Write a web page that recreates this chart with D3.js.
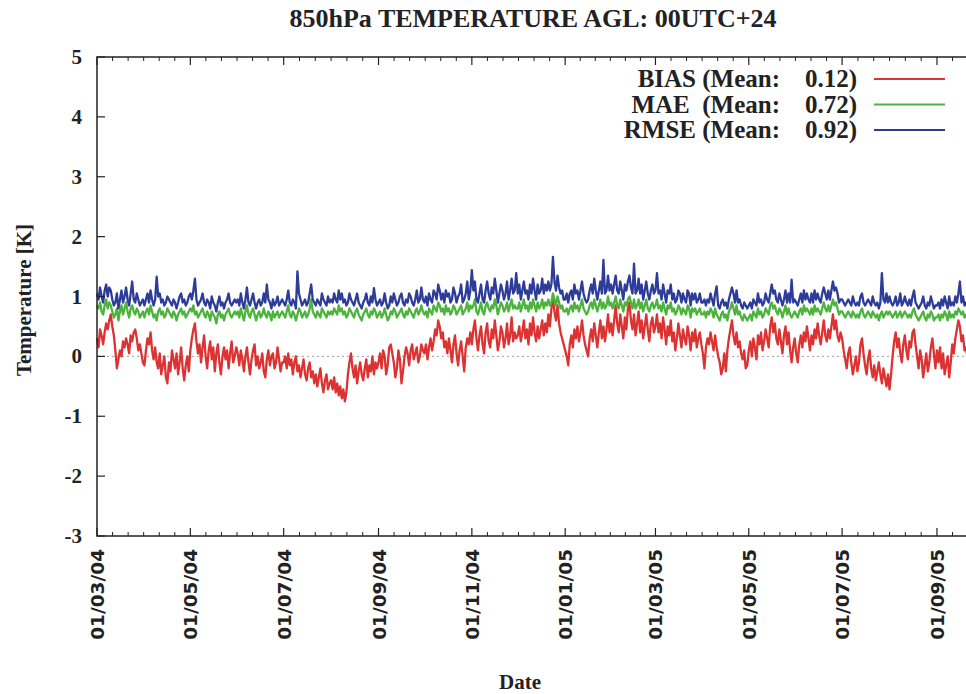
<!DOCTYPE html>
<html>
<head>
<meta charset="utf-8">
<script src="https://d3js.org/d3.v7.min.js"></script>
<style>
 body { margin: 0; background: #fff; }
 svg text { font-family: "Liberation Serif", "DejaVu Serif", serif; font-weight: bold; fill: #222; }
 .xlab { font-family: "DejaVu Sans", sans-serif; }
</style>
</head>
<body>
<svg id="chart" width="966" height="694"></svg>
<script>
// values, one per day from 01/03/04
var startDate = "2004-03-01";
var endDate = "2005-10-01";
var bias = [
 0.30,0.15,0.45,0.35,0.20,0.40,0.55,0.45,0.60,0.70,0.50,0.35,0.10,-0.20,-0.05,0.10,0.00,0.25,0.15,0.30,0.20,0.05,0.35,0.25,0.40,0.45,0.30,0.10,0.20,0.05,-0.10,
 -0.15,0.10,0.30,0.20,0.40,0.10,-0.05,0.15,-0.10,-0.20,0.05,-0.30,-0.15,0.00,-0.35,-0.45,-0.10,-0.25,0.10,-0.05,-0.20,0.05,-0.30,-0.10,0.15,-0.20,-0.40,-0.15,0.00,-0.25,
 0.10,0.30,0.45,0.55,0.25,0.05,0.20,-0.10,0.15,0.35,0.00,-0.20,0.10,0.25,-0.05,0.15,-0.25,0.05,0.20,-0.10,-0.30,0.00,0.15,-0.05,0.10,-0.20,0.05,0.25,-0.10,0.00,0.15,
 0.05,-0.15,0.10,-0.05,-0.25,0.00,0.15,-0.10,-0.30,-0.05,0.10,0.20,-0.15,0.00,-0.20,-0.10,0.05,-0.25,-0.35,-0.05,0.10,-0.15,0.00,0.05,-0.20,-0.10,0.15,-0.05,-0.25,-0.10,
 -0.10,0.00,-0.20,0.05,-0.15,-0.05,-0.30,-0.10,0.00,-0.25,-0.15,-0.35,-0.20,-0.05,-0.30,-0.40,-0.20,-0.10,-0.35,-0.25,-0.45,-0.30,-0.50,-0.35,-0.20,-0.45,-0.60,-0.40,-0.30,-0.55,-0.45,
 -0.40,-0.55,-0.35,-0.60,-0.45,-0.65,-0.50,-0.70,-0.55,-0.75,-0.60,-0.30,-0.10,0.05,-0.20,-0.35,-0.15,-0.45,-0.25,-0.10,-0.30,-0.40,-0.20,-0.05,-0.35,-0.15,-0.25,0.00,-0.30,-0.10,-0.20,
 -0.10,0.05,-0.20,0.10,0.00,-0.30,-0.15,0.15,0.20,0.05,-0.10,-0.35,-0.20,0.10,-0.05,-0.45,-0.25,0.00,0.15,0.05,-0.15,0.10,0.20,-0.05,0.05,0.15,-0.10,0.00,0.20,0.10,
 0.05,0.20,-0.05,0.15,0.30,0.10,0.25,0.45,0.35,0.60,0.50,0.30,0.40,0.15,0.25,0.05,0.30,0.10,-0.10,0.20,0.35,0.05,-0.15,0.10,0.25,0.00,-0.25,0.15,0.30,0.20,0.40,
 0.20,0.45,0.60,0.30,0.10,0.35,0.50,0.20,0.05,0.40,0.55,0.25,0.15,0.45,0.30,0.60,0.35,0.10,0.25,0.50,0.40,0.15,0.30,0.55,0.20,0.35,0.65,0.25,0.40,0.30,
 0.35,0.50,0.25,0.40,0.60,0.30,0.45,0.20,0.55,0.35,0.65,0.40,0.25,0.50,0.30,0.45,0.60,0.35,0.55,0.40,0.70,0.50,0.80,0.95,0.75,0.60,0.85,0.55,0.40,0.30,0.20,
 0.10,0.00,-0.15,0.20,0.35,0.15,0.45,0.30,0.50,0.25,0.40,0.60,0.35,0.20,0.10,0.00,0.30,0.45,0.25,0.55,0.35,0.15,0.40,0.60,0.30,0.50,0.25,0.45,0.70,0.40,0.55,
 0.35,0.60,0.85,0.55,0.40,0.70,0.50,0.30,0.65,0.45,0.80,0.90,0.60,0.45,0.70,0.35,0.55,0.75,0.40,0.60,0.30,0.50,0.70,0.45,0.25,0.55,0.65,0.40,
 0.50,0.70,0.40,0.55,0.30,0.65,0.45,0.20,0.50,0.35,0.60,0.25,0.40,0.10,0.30,0.55,0.35,0.15,0.45,0.30,0.20,0.50,0.35,0.10,0.40,0.25,0.45,0.15,0.30,0.40,0.20,
 0.05,-0.20,0.15,0.30,0.20,0.40,0.25,0.10,0.35,0.15,0.00,-0.10,-0.30,-0.20,0.05,-0.25,0.10,0.30,0.45,0.60,0.35,0.20,0.40,0.15,0.25,0.05,-0.05,0.10,-0.20,-0.15,
 0.10,0.25,0.00,0.30,0.15,-0.05,0.35,0.20,0.40,0.10,0.25,0.45,0.30,0.15,0.50,0.65,0.40,0.55,0.30,0.20,0.45,0.25,0.05,0.35,0.50,0.20,0.40,0.10,-0.10,0.15,0.30,
 0.05,-0.10,0.20,0.35,0.15,0.40,0.25,0.50,0.30,0.10,0.35,0.20,0.45,0.30,0.55,0.35,0.20,0.40,0.60,0.35,0.25,0.45,0.30,0.50,0.70,0.45,0.60,0.35,0.25,0.40,
 0.30,0.10,-0.05,-0.20,0.05,0.15,-0.10,-0.30,-0.15,0.00,-0.25,-0.10,0.20,0.30,0.05,-0.15,-0.30,-0.05,0.10,-0.20,-0.35,-0.15,-0.40,-0.25,-0.10,-0.30,-0.45,-0.20,-0.35,-0.50,-0.30,
 -0.55,-0.30,0.00,0.25,0.40,0.15,0.30,0.05,-0.10,0.20,0.35,0.10,-0.05,0.25,0.15,0.40,0.45,0.20,0.00,-0.20,0.10,-0.05,-0.35,-0.15,0.05,-0.25,-0.10,0.15,0.30,0.05,-0.20,
 0.10,-0.10,0.15,-0.20,0.05,-0.30,-0.15,0.00,-0.35,-0.10,0.20,0.05,0.30,0.45,0.60,0.50,0.25,0.35,0.10,0.15,-0.05,-0.25,-0.10,0.00,-0.15,0.10,-0.05,0.05,-0.10,0.00
];
var mae = [
 0.85,0.80,0.90,0.75,0.70,0.85,0.95,0.80,0.90,0.85,0.75,0.65,0.70,0.80,0.60,0.75,0.85,0.70,0.80,0.90,0.75,0.65,0.80,0.85,0.75,0.70,0.80,0.75,0.65,0.70,0.75,
 0.65,0.75,0.80,0.70,0.85,0.75,0.65,0.70,0.60,0.75,0.80,0.70,0.75,0.65,0.70,0.80,0.75,0.70,0.65,0.75,0.70,0.60,0.70,0.75,0.80,0.70,0.75,0.65,0.70,0.75,
 0.80,0.75,0.85,0.70,0.75,0.65,0.70,0.75,0.80,0.70,0.65,0.75,0.70,0.60,0.75,0.70,0.65,0.55,0.70,0.75,0.65,0.70,0.60,0.70,0.75,0.80,0.70,0.65,0.70,0.75,0.70,
 0.75,0.65,0.80,0.70,0.60,0.75,0.85,0.70,0.65,0.75,0.80,0.70,0.60,0.70,0.75,0.65,0.70,0.80,0.70,0.65,0.75,0.70,0.60,0.75,0.65,0.70,0.75,0.65,0.70,0.75,
 0.70,0.65,0.75,0.85,0.70,0.65,0.75,0.70,0.60,0.70,0.80,0.75,0.65,0.70,0.75,0.65,0.70,0.80,0.95,0.75,0.70,0.65,0.75,0.70,0.65,0.80,0.75,0.70,0.65,0.75,0.70,
 0.75,0.70,0.80,0.75,0.70,0.85,0.75,0.80,0.70,0.75,0.65,0.70,0.80,0.75,0.70,0.65,0.75,0.80,0.70,0.65,0.60,0.70,0.75,0.80,0.70,0.65,0.75,0.70,0.80,0.75,0.65,
 0.70,0.75,0.65,0.70,0.80,0.70,0.60,0.65,0.75,0.70,0.80,0.75,0.65,0.70,0.75,0.80,0.70,0.65,0.75,0.70,0.80,0.75,0.70,0.65,0.75,0.80,0.70,0.75,0.85,0.75,
 0.70,0.75,0.65,0.80,0.75,0.70,0.85,0.80,0.75,0.90,0.85,0.75,0.80,0.70,0.85,0.75,0.80,0.70,0.75,0.85,0.80,0.70,0.75,0.80,0.85,0.70,0.75,0.80,0.90,0.75,0.85,
 0.80,0.85,0.95,0.75,0.70,0.80,0.90,0.75,0.70,0.85,0.90,0.80,0.75,0.85,0.80,0.95,0.85,0.70,0.80,0.90,0.85,0.75,0.80,0.90,0.75,0.85,0.95,0.80,0.85,0.80,
 0.80,0.90,0.75,0.85,0.95,0.80,0.85,0.75,0.90,0.80,0.95,0.85,0.75,0.90,0.80,0.85,0.95,0.80,0.90,0.85,0.95,0.85,0.90,1.05,0.95,0.85,1.00,0.90,0.80,0.85,0.75,
 0.75,0.80,0.70,0.80,0.85,0.75,0.90,0.80,0.85,0.75,0.85,0.95,0.80,0.75,0.70,0.75,0.85,0.90,0.80,0.95,0.85,0.75,0.85,0.95,0.80,0.90,0.80,0.85,1.00,0.85,0.90,
 0.80,0.90,1.00,0.85,0.80,0.95,0.85,0.75,0.90,0.85,0.95,1.00,0.90,0.80,0.95,0.80,0.85,0.95,0.80,0.90,0.75,0.85,0.95,0.80,0.75,0.85,0.90,0.80,
 0.85,0.95,0.80,0.85,0.75,0.90,0.80,0.70,0.85,0.80,0.90,0.75,0.80,0.70,0.75,0.85,0.80,0.70,0.80,0.75,0.70,0.85,0.80,0.65,0.80,0.75,0.80,0.70,0.75,0.80,0.70,
 0.70,0.75,0.65,0.75,0.70,0.80,0.75,0.65,0.80,0.70,0.65,0.60,0.70,0.75,0.65,0.70,0.60,0.75,0.80,0.90,0.80,0.70,0.85,0.70,0.75,0.65,0.60,0.70,0.65,0.60,
 0.65,0.70,0.60,0.75,0.70,0.65,0.80,0.70,0.75,0.65,0.70,0.80,0.75,0.70,0.85,0.90,0.80,0.85,0.75,0.70,0.80,0.75,0.65,0.75,0.85,0.70,0.80,0.70,0.65,0.70,0.75,
 0.70,0.65,0.75,0.80,0.70,0.85,0.75,0.80,0.75,0.70,0.80,0.70,0.85,0.75,0.80,0.75,0.70,0.80,0.90,0.80,0.75,0.85,0.75,0.85,0.95,0.85,0.90,0.80,0.70,0.75,
 0.75,0.70,0.65,0.70,0.75,0.70,0.65,0.75,0.70,0.65,0.70,0.65,0.75,0.80,0.70,0.65,0.70,0.75,0.70,0.65,0.75,0.70,0.65,0.70,0.60,0.70,0.75,0.65,0.70,0.75,0.70,
 0.75,0.70,0.65,0.70,0.75,0.65,0.70,0.75,0.65,0.70,0.75,0.70,0.65,0.70,0.65,0.75,0.80,0.70,0.65,0.60,0.65,0.70,0.75,0.65,0.60,0.70,0.65,0.75,0.70,0.60,0.65,
 0.65,0.70,0.60,0.70,0.65,0.75,0.70,0.60,0.75,0.65,0.70,0.65,0.75,0.70,0.80,0.75,0.70,0.75,0.65,0.70,0.60,0.70,0.75,0.65,0.70,0.65,0.60,0.70,0.65,0.70
];
var rmse = [
 1.05,0.95,1.15,1.00,0.90,1.10,1.20,1.00,1.15,1.10,0.95,0.85,0.90,1.05,0.80,0.95,1.10,0.90,1.00,1.15,0.95,0.85,1.05,1.25,0.95,0.90,1.05,0.95,0.85,0.90,0.95,
 0.85,0.95,1.05,0.90,1.10,0.95,0.85,0.95,1.33,1.00,1.05,0.90,0.95,0.85,0.90,1.00,0.95,0.90,0.85,0.95,0.90,0.80,0.90,1.00,1.05,0.90,0.95,0.85,0.90,1.00,
 1.05,0.95,1.10,1.30,0.95,0.85,0.90,0.95,1.05,0.90,0.85,0.95,0.90,0.80,1.00,0.90,0.85,0.75,0.90,1.00,0.85,0.90,0.80,0.90,0.95,1.05,0.90,0.85,0.90,0.95,0.90,
 0.95,0.85,1.05,0.90,0.80,0.95,1.15,0.90,0.85,0.95,1.05,0.90,0.80,0.90,0.95,0.85,0.90,1.05,0.90,1.20,0.95,0.90,0.80,0.95,0.85,0.90,1.00,0.85,0.90,0.95,
 0.90,0.85,0.95,1.10,0.90,0.85,0.95,0.90,0.80,1.42,1.05,0.95,0.85,0.90,0.95,0.85,0.90,1.05,1.20,0.95,0.90,0.85,0.95,0.90,0.85,1.05,0.95,0.90,0.85,1.00,0.90,
 0.95,0.90,1.05,0.95,0.90,1.10,0.95,1.05,0.90,0.95,0.85,0.90,1.05,0.95,0.90,0.85,0.95,1.05,0.90,0.85,0.80,0.90,0.95,1.05,0.90,0.85,1.00,0.90,1.14,0.95,0.85,
 0.90,0.95,0.85,0.90,1.05,0.90,0.80,0.85,1.00,0.90,1.05,0.95,0.85,0.90,1.00,1.05,0.90,0.85,0.95,0.90,1.05,1.00,0.90,0.85,0.95,1.10,0.90,0.95,1.15,0.95,
 0.90,1.00,0.85,1.05,0.95,0.90,1.10,1.05,0.95,1.20,1.10,0.95,1.05,0.90,1.10,1.00,1.05,0.90,0.95,1.15,1.05,0.90,1.00,1.05,1.20,0.90,0.95,1.05,1.25,0.95,1.10,
 1.44,1.10,1.25,0.95,0.90,1.05,1.20,0.95,0.90,1.10,1.25,1.05,0.95,1.15,1.05,1.30,1.10,0.90,1.05,1.20,1.10,0.95,1.05,1.25,0.95,1.10,1.30,1.05,1.10,1.39,
 1.05,1.20,0.95,1.10,1.25,1.05,1.10,0.95,1.20,1.05,1.30,1.10,0.95,1.20,1.05,1.10,1.30,1.05,1.20,1.10,1.25,1.10,1.20,1.66,1.25,1.10,1.35,1.15,1.05,1.10,0.95,
 0.95,1.05,0.90,1.05,1.10,0.95,1.20,1.05,1.10,0.95,1.10,1.25,1.05,0.95,0.90,0.95,1.10,1.20,1.05,1.30,1.10,0.95,1.10,1.25,1.05,1.61,1.05,1.10,1.35,1.10,1.20,
 1.05,1.20,1.35,1.10,1.05,1.25,1.10,0.95,1.20,1.10,1.25,1.35,1.15,1.05,1.55,1.05,1.10,1.30,1.05,1.20,0.95,1.10,1.25,1.05,0.95,1.10,1.20,1.05,
 1.10,1.39,1.05,1.10,0.95,1.20,1.05,0.90,1.10,1.05,1.20,0.95,1.05,0.90,0.95,1.10,1.05,0.90,1.05,0.95,0.90,1.10,1.05,0.85,1.05,0.95,1.05,0.90,0.95,1.05,0.90,
 0.90,0.95,0.85,0.95,0.90,1.05,0.95,0.85,1.05,1.17,0.85,0.80,0.90,0.95,0.85,0.90,0.80,0.95,1.05,1.15,1.05,0.90,1.10,0.90,0.95,0.85,0.80,0.90,0.85,0.80,
 0.85,0.90,0.80,0.95,0.90,0.85,1.05,0.90,0.95,0.85,0.90,1.05,0.95,0.90,1.05,1.20,1.05,1.10,0.95,0.90,1.05,0.95,0.85,0.95,1.10,0.90,1.05,0.90,1.28,0.90,0.95,
 0.90,0.85,0.95,1.05,0.90,1.10,0.95,1.05,0.95,0.90,1.05,0.90,1.10,0.95,1.05,0.95,0.90,1.05,1.15,1.05,0.95,1.10,0.95,1.10,1.25,1.10,1.15,1.05,0.90,0.95,
 0.95,0.90,0.85,0.90,0.95,0.90,0.85,1.00,0.90,0.85,0.90,0.85,1.00,1.05,0.90,0.85,0.90,0.95,0.90,0.85,1.00,0.90,0.85,0.90,0.80,0.90,1.39,0.95,0.90,1.05,0.90,
 1.00,0.90,0.85,0.90,1.00,0.85,0.90,1.05,0.85,0.90,1.00,0.90,0.85,0.95,0.85,1.00,1.10,0.90,0.85,0.80,0.85,0.90,1.00,0.85,0.80,0.90,0.85,1.00,0.90,0.80,0.85,
 0.85,0.90,0.80,0.95,0.85,1.00,0.90,0.80,1.00,0.85,0.90,0.85,1.00,0.90,1.05,1.25,0.90,1.00,0.85,0.90,0.80,0.95,1.00,0.85,0.95,0.90,0.80,0.95,0.85,0.95
];
var tickDates = ["2004-03-01","2004-05-01","2004-07-01","2004-09-01","2004-11-01","2005-01-01","2005-03-01","2005-05-01","2005-07-01","2005-09-01","2005-11-01"];
var tickLabels = ["01/03/04","01/05/04","01/07/04","01/09/04","01/11/04","01/01/05","01/03/05","01/05/05","01/07/05","01/09/05",""];
var yTicks = [-3,-2,-1,0,1,2,3,4,5];
var seriesNames = ["BIAS","MAE\u00a0","RMSE"];
var seriesMeans = ["0.12","0.72","0.92"];
var seriesColors = ["#dc3232","#4cb43c","#2c3c98"];

(function () {
  var parse = d3.timeParse("%Y-%m-%d");
  var t0 = parse(startDate);
  var t1 = parse(endDate);
  var svg = d3.select("#chart");
  var plotLeft = 97, plotTop = 57, plotBottom = 536;
  var dayPx = 1.53;
  var plotRight = plotLeft + d3.timeDay.count(t0, t1) * dayPx;

  var x = d3.scaleTime().domain([t0, t1]).range([plotLeft, plotRight]);
  var y = d3.scaleLinear().domain([-3, 5]).range([plotBottom, plotTop]);

  // zero line
  svg.append("line")
    .attr("x1", plotLeft).attr("x2", plotRight)
    .attr("y1", y(0)).attr("y2", y(0))
    .attr("stroke", "#888").attr("stroke-width", 0.8)
    .attr("stroke-dasharray", "2,3");

  var lineGen = d3.line()
    .x(function (d, i) { return x(d3.timeDay.offset(t0, i)); })
    .y(function (d) { return y(d); });

  [bias, mae, rmse].forEach(function (s, k) {
    svg.append("path")
      .datum(s)
      .attr("d", lineGen)
      .attr("fill", "none")
      .attr("stroke", seriesColors[k])
      .attr("stroke-width", 2.3)
      .attr("stroke-linejoin", "round");
  });

  // frame
  svg.append("rect")
    .attr("x", plotLeft).attr("y", plotTop)
    .attr("width", plotRight - plotLeft).attr("height", plotBottom - plotTop)
    .attr("fill", "none").attr("stroke", "#222").attr("stroke-width", 1.5);

  // y ticks
  yTicks.forEach(function (v) {
    svg.append("line")
      .attr("x1", plotLeft).attr("x2", plotLeft + 8)
      .attr("y1", y(v)).attr("y2", y(v))
      .attr("stroke", "#222").attr("stroke-width", 1.2);
    svg.append("text")
      .attr("x", 82).attr("y", y(v) + 7)
      .attr("text-anchor", "end")
      .style("font-size", "21px")
      .text(v);
  });

  // x ticks, major and minor, bottom and top
  var majors = tickDates.map(parse);
  majors.forEach(function (d, i) {
    var px = x(d);
    [[plotBottom, -8], [plotTop, 8]].forEach(function (e) {
      svg.append("line")
        .attr("x1", px).attr("x2", px)
        .attr("y1", e[0]).attr("y2", e[0] + e[1])
        .attr("stroke", "#222").attr("stroke-width", 1.2);
    });
    if (i < majors.length - 1) {
      var nx = x(majors[i + 1]);
      for (var m = 1; m < 6; m++) {
        var mx = px + (nx - px) * m / 6;
        [[plotBottom, -4], [plotTop, 4]].forEach(function (e) {
          svg.append("line")
            .attr("x1", mx).attr("x2", mx)
            .attr("y1", e[0]).attr("y2", e[0] + e[1])
            .attr("stroke", "#222").attr("stroke-width", 1);
        });
      }
    }
    if (tickLabels[i]) {
      svg.append("text")
        .attr("class", "xlab")
        .attr("transform", "translate(" + (px + 7) + "," + 549 + ") rotate(-90)")
        .attr("text-anchor", "end")
        .style("font-size", "18.5px")
        .text(tickLabels[i]);
    }
  });

  // titles
  svg.append("text")
    .attr("x", 533).attr("y", 27)
    .attr("text-anchor", "middle")
    .style("font-size", "26px")
    .text("850hPa TEMPERATURE AGL: 00UTC+24");
  svg.append("text")
    .attr("transform", "translate(31,300) rotate(-90)")
    .attr("text-anchor", "middle")
    .style("font-size", "21px")
    .text("Temperature [K]");
  svg.append("text")
    .attr("x", 520).attr("y", 689)
    .attr("text-anchor", "middle")
    .style("font-size", "21px")
    .text("Date");

  // legend
  seriesNames.forEach(function (n, k) {
    var ly = 79 + k * 25.5;
    svg.append("text")
      .attr("x", 780).attr("y", ly + 8)
      .attr("text-anchor", "end")
      .style("font-size", "25px")
      .text(n + " (Mean:");
    svg.append("text")
      .attr("x", 857).attr("y", ly + 8)
      .attr("text-anchor", "end")
      .style("font-size", "25px")
      .text(seriesMeans[k] + ")");
    svg.append("line")
      .attr("x1", 874).attr("x2", 945)
      .attr("y1", ly).attr("y2", ly)
      .attr("stroke", seriesColors[k]).attr("stroke-width", 2);
  });
})();
</script>
</body>
</html>
